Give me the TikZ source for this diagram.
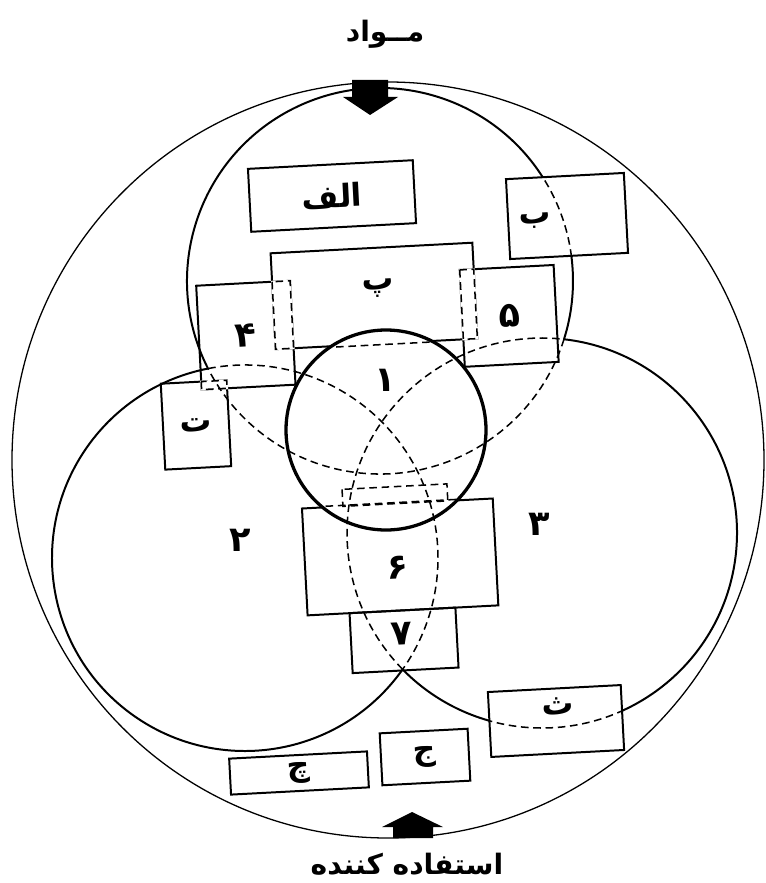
\documentclass[tikz,border=0pt]{standalone}
\usepackage{fontspec}
\newfontfamily\arabicfont[Script=Arabic]{DejaVu Sans}
\TeXXeTstate=1
\usetikzlibrary{calc}
\newlength\pxu
\setlength\pxu{0.3mm}
\newcommand\rl[1]{\beginR #1\endR}

\begin{document}
\begin{tikzpicture}[
  x=0.3mm,y=-0.3mm,
  rim/.style={draw=black,line width=1.1pt},
  ring/.style={draw=black,line width=1.7pt},
  core/.style={draw=black,line width=2.8pt},
  hidden/.style={draw=black,line width=1.3pt,dash pattern=on 6.5pt off 4pt},
  box/.style={draw=black,line width=1.7pt,inner sep=0pt,font=\arabicfont\bfseries\fontsize{27}{30}\selectfont},
  tag/.style={font=\arabicfont\bfseries\fontsize{27}{30}\selectfont,inner sep=0pt},
  digit/.style={font=\arabicfont\bfseries\fontsize{30}{32}\selectfont,inner sep=0pt},
  title/.style={font=\arabicfont\bfseries\fontsize{24}{28}\selectfont,inner sep=0pt,anchor=base}
]
\useasboundingbox (0,0) rectangle (765,883);

\coordinate (top) at (380,281);
\coordinate (lft) at (245,558);
\coordinate (rgt) at (542,533);
\coordinate (mid) at (386,430);

% outer ring and the solid outline of the three circles
\draw[rim] (388,460) ellipse [x radius=376,y radius=378];
\draw[ring] (top) ++(153.2:193) arc[start angle=153.2,end angle=377.5,radius=193];
\draw[ring] (lft) ++(35.3:193) arc[start angle=35.3,end angle=259,radius=193];
\draw[ring] (rgt) ++(-83.5:195) arc[start angle=-83.5,end angle=135.6,radius=195];

% central cluster of boxes, slightly tilted
\begin{scope}[rotate around={3:(mid)},transform shape]
  \node[box,minimum width=202\pxu,minimum height=96\pxu] (pe) at (381,295.5) {};
  \node[box,digit,minimum width=94\pxu,minimum height=104\pxu] (n4) at (251,328) {۴};
  \node[box,digit,minimum width=94\pxu,minimum height=97\pxu] (n5) at (515,322.5) {۵};
  \node[box,minimum width=66\pxu,minimum height=86\pxu] (te) at (196.5,415) {ت};
  \node[box,minimum width=191\pxu,minimum height=107\pxu] (n6) at (393.5,557.5) {};
  \node[box,minimum width=106\pxu,minimum height=60\pxu] (n7) at (393,641) {};

  % overlaps shown as hidden edges
  \fill[white] (279,275) rectangle (299,344.5);
  \draw[hidden] (280,276) rectangle (298,343.5);
  \fill[white] (467,273) rectangle (483,344.5);
  \draw[hidden] (468,274) rectangle (482,343.5);
  \fill[white] (203,371) rectangle (230.5,381);
  \draw[hidden] (204,372) rectangle (229.5,380);

  % edges behind the core circle
  \fill[white] (mid) circle (100);
  \begin{scope}
    \clip (mid) circle (100);
    \draw[hidden] (pe.south west) -- (pe.south east);
    \draw[hidden] (n6.north west) -- (n6.north east);
  \end{scope}
  \draw[hidden] (339,487) rectangle (444,504);
\end{scope}
\node[tag,rotate=3] (petext) at (378,288) {پ};
\node[digit,rotate=3] (six) at (398,568) {۶};
\node[digit,rotate=3] (seven) at (402,634) {۷};

% inner parts of the three circles
\draw[hidden] (top) ++(17.5:193) arc[start angle=17.5,end angle=153.2,radius=193];
\draw[hidden] (lft) ++(-101:193) arc[start angle=-101,end angle=35.3,radius=193];
\draw[hidden] (rgt) ++(135.6:195) arc[start angle=135.6,end angle=276.5,radius=195];

% boxes lying across a circle
\node[box,fill=white,minimum width=118\pxu,minimum height=80\pxu,rotate=3] (be) at (567,216) {};
\node[tag,rotate=3] (betext) at (535,221) {ب};
\begin{scope}
  \clip (be.north west) -- (be.north east) -- (be.south east) -- (be.south west) -- cycle;
  \draw[hidden] (top) circle (193);
\end{scope}
\node[box,fill=white,minimum width=133\pxu,minimum height=65\pxu,rotate=3] (se) at (556,721) {};
\node[tag,rotate=3] (setext) at (558,706) {ث};
\begin{scope}
  \clip (se.north west) -- (se.north east) -- (se.south east) -- (se.south west) -- cycle;
  \draw[hidden] (rgt) circle (195);
\end{scope}

% free boxes
\node[box,minimum width=165\pxu,minimum height=63\pxu,rotate=3] (alef) at (332,196) {\rl{الف}};
\node[box,minimum width=88\pxu,minimum height=52\pxu,rotate=3] (jim) at (425,757) {ج};
\node[box,minimum width=138\pxu,minimum height=36\pxu,rotate=3] (che) at (299,773) {چ};

% core circle
\draw[core] (mid) circle (100);
\node[digit] (one) at (385,380) {۱};
\node[digit] (two) at (240,540) {۲};
\node[digit] (three) at (539,524) {۳};

% in and out arrows
\fill (352,80) -- (388,80) -- (388,97) -- (398,97) -- (370,115) -- (343,97) -- (352,97) -- cycle;
\fill (393,838) -- (393,827) -- (382,827) -- (412,812) -- (443,827) -- (433,827) -- (433,838) -- cycle;
\node[title] (mavad) at (385,42) {\rl{مــواد}};
\node[title] (user) at (407,874) {\rl{استفاده کننده}};
\end{tikzpicture}
\end{document}
